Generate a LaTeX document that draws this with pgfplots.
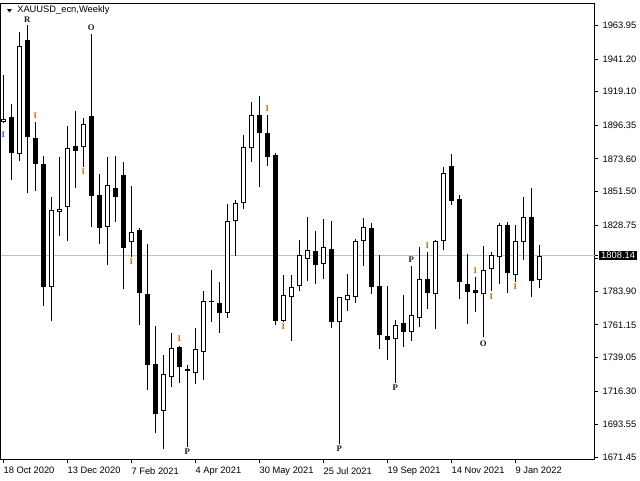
\documentclass[border=0pt]{standalone}
\usepackage{fontspec}
\setmainfont{Liberation Sans}
\newfontfamily\letterfont{Liberation Serif}
\usepackage{pgfplots}
\usepackage{pgfplotstable}
\pgfplotsset{compat=1.18}

\definecolor{priceline}{RGB}{192,192,192}
\definecolor{markI}{RGB}{190,110,10}
\definecolor{markIblue}{RGB}{40,90,200}
\definecolor{markdark}{RGB}{30,25,20}

% weekly XAUUSD candles, x = week index (0 = 18 Oct 2020)
\pgfplotstableread{
x o h l c
1 1901.76 1910.57 1859.29 1877.78
3 1954.12 1964.28 1850.28 1888.62
4 1887.74 1898.37 1851.84 1870.33
5 1870.13 1875.55 1774.14 1786.60
9 1882.32 1906.23 1854.07 1879.14
11 1902.64 1958.19 1827.65 1848.65
12 1849.13 1863.35 1815.93 1826.98
14 1853.67 1875.75 1831.04 1847.98
15 1862.67 1871.28 1785.25 1813.43
17 1825.42 1826.57 1760.73 1783.08
18 1782.06 1815.93 1717.03 1733.97
19 1734.65 1760.39 1688.11 1700.98
22 1746.16 1747.04 1721.98 1732.82
23 1731.26 1733.97 1678.63 1729.90
26 1777.40 1798.32 1763.30 1776.80
27 1775.76 1790.19 1755.85 1769.40
32 1903.12 1916.19 1854.75 1890.92
33 1890.92 1903.32 1868.97 1875.07
34 1876.02 1877.37 1760.86 1763.98
39 1811.19 1824.74 1788.84 1801.91
41 1812.55 1831.51 1758.83 1763.30
46 1826.57 1829.96 1782.27 1787.01
47 1787.48 1808.48 1745.01 1754.49
48 1753.61 1787.48 1737.56 1750.70
50 1762.42 1781.39 1745.96 1756.53
53 1792.23 1810.31 1772.11 1782.94
56 1868.77 1876.90 1842.35 1845.27
57 1846.21 1849.13 1778.48 1790.40
58 1788.84 1809.16 1761.74 1783.62
59 1784.77 1793.38 1770.07 1782.94
63 1828.80 1831.04 1782.54 1796.49
66 1834.22 1853.67 1780.24 1791.07
}\blackcandles

\pgfplotstableread{
x o h l c
0 1898.60 1930.41 1898.00 1900.60
2 1876.70 1959.34 1872.36 1950.06
6 1786.60 1847.57 1763.98 1838.97
7 1837.41 1874.87 1821.35 1839.44
8 1840.80 1895.87 1818.17 1880.96
10 1881.44 1901.08 1868.30 1897.22
13 1827.65 1875.07 1801.71 1855.90
16 1817.09 1855.43 1807.33 1823.86
20 1703.01 1740.74 1677.07 1727.87
21 1726.04 1755.44 1719.27 1745.48
24 1728.75 1759.03 1721.10 1744.60
25 1742.98 1784.10 1723.81 1777.12
28 1768.99 1843.03 1766.01 1831.31
29 1831.31 1845.74 1808.01 1843.50
30 1843.50 1889.77 1839.85 1881.44
31 1880.76 1912.13 1871.68 1903.12
35 1763.98 1794.93 1763.30 1781.18
36 1780.24 1794.93 1750.43 1787.01
37 1787.69 1818.64 1784.30 1808.28
38 1805.98 1834.22 1791.07 1811.67
40 1802.18 1832.87 1792.43 1813.70
42 1763.30 1779.83 1680.45 1779.83
43 1777.80 1795.41 1770.75 1781.18
44 1779.83 1819.32 1776.17 1817.97
45 1817.76 1833.34 1801.23 1827.25
49 1751.38 1764.45 1721.98 1760.86
51 1756.53 1801.03 1750.43 1767.84
52 1766.01 1813.70 1759.91 1792.02
54 1782.27 1818.64 1758.56 1817.76
55 1817.76 1867.89 1811.87 1863.83
60 1781.86 1814.58 1752.73 1798.32
61 1799.20 1810.72 1784.10 1808.28
62 1807.33 1830.36 1788.84 1828.80
64 1794.73 1828.80 1790.40 1817.76
65 1817.49 1847.98 1805.10 1834.02
67 1791.34 1815.26 1785.92 1808.14
}\whitecandles

% indicator letters
\pgfplotstableread{
x y t
4 1902.6 I
10 1864.7 I
16 1803.7 I
22 1751.6 I
33 1907.4 I
35 1759.9 I
53 1814.6 I
59 1797.9 I
61 1780.2 I
64 1787.0 I
}\letI

\pgfplotstableread{
x y t
0 1889.8 I
}\letIblue

\pgfplotstableread{
x y t
3 1968.1 R
11 1962.5 O
23 1675.2 P
42 1677.5 P
49 1718.6 P
51 1805.1 P
60 1748.7 O
}\letdark

\pgfplotsset{
  candle/.style 2 args={draw=none, mark=none, forget plot,
    error bars/.cd, y dir=plus, y explicit, error mark=none,
    error bar style={draw=#1, line width=#2}},
  letters/.style={draw=none, mark=none, forget plot, nodes near coords,
    point meta=explicit symbolic,
    nodes near coords style={anchor=center, inner sep=0pt, text=#1,
      font=\letterfont\bfseries\fontsize{6.5}{7}\selectfont}},
}

\begin{document}
\begin{tikzpicture}[x=1pt,y=1pt]
\useasboundingbox (0,0) rectangle (480,360);
\begin{axis}[
  scale only axis,
  width=445.5pt, height=342pt,
  anchor=north west, at={(0.375pt,357.375pt)},
  xmin=-0.35, xmax=73.9, ymin=1669.95, ymax=1978.85,
  axis line style={line width=0.75pt},
  tick style={black, line width=0.75pt},
  tick align=outside, major tick length=2.25pt,
  xtick pos=bottom, ytick pos=right, yticklabel pos=right,
  xtick={0,8,16,24,32,40,48,56,64},
  xticklabels={18 Oct 2020,13 Dec 2020,7 Feb 2021,4 Apr 2021,30 May 2021,25 Jul 2021,19 Sep 2021,14 Nov 2021,9 Jan 2022},
  ytick={1963.95,1941.20,1919.10,1896.35,1873.60,1851.50,1828.75,1806.00,1783.90,1761.15,1739.05,1716.30,1693.55,1671.45},
  yticklabels={1963.95,1941.20,1919.10,1896.35,1873.60,1851.50,1828.75,,1783.90,1761.15,1739.05,1716.30,1693.55,1671.45},
  ticklabel style={font=\fontsize{7}{8}\selectfont},
  xticklabel style={anchor=north west, inner sep=0pt, yshift=-3.4pt},
  yticklabel style={anchor=west, inner sep=0pt, xshift=3.6pt},
  extra y ticks={1808.14},
  extra y tick labels={1808.14},
  extra y tick style={grid=major, major grid style={priceline, line width=0.75pt},
    yticklabel style={fill=black, text=white, inner xsep=1.5pt, inner ysep=0.9pt, xshift=-2.5pt}},
]
% wicks
\addplot[candle={black}{0.75pt}]
  table[x=x, y=l, y error expr=\thisrow{h}-\thisrow{l}] {\blackcandles};
\addplot[candle={black}{0.75pt}]
  table[x=x, y=l, y error expr=\thisrow{h}-\thisrow{l}] {\whitecandles};
% black bodies
\addplot[candle={black}{3.75pt}]
  table[x=x, y=c, y error expr=\thisrow{o}-\thisrow{c}] {\blackcandles};
% white bodies: outline then fill
\addplot[candle={black}{3.75pt}]
  table[x=x, y=o, y error expr=\thisrow{c}-\thisrow{o}] {\whitecandles};
\addplot[candle={white}{2.25pt}]
  table[x=x, y expr=\thisrow{o}+0.68, y error expr=\thisrow{c}-\thisrow{o}-1.36] {\whitecandles};
% letters
\addplot[letters=markI] table[x=x, y=y, meta=t] {\letI};
\addplot[letters=markIblue] table[x=x, y=y, meta=t] {\letIblue};
\addplot[letters=markdark] table[x=x, y=y, meta=t] {\letdark};
% title
\fill (axis description cs:0.0109,0.9879) -- (axis description cs:0.0194,0.9879) -- (axis description cs:0.0152,0.9803) -- cycle;
\node[anchor=west, inner sep=0pt, font=\fontsize{7}{8}\selectfont] at (axis description cs:0.0278,0.9857) {XAUUSD\_ecn,Weekly};
\end{axis}
\end{tikzpicture}
\end{document}
